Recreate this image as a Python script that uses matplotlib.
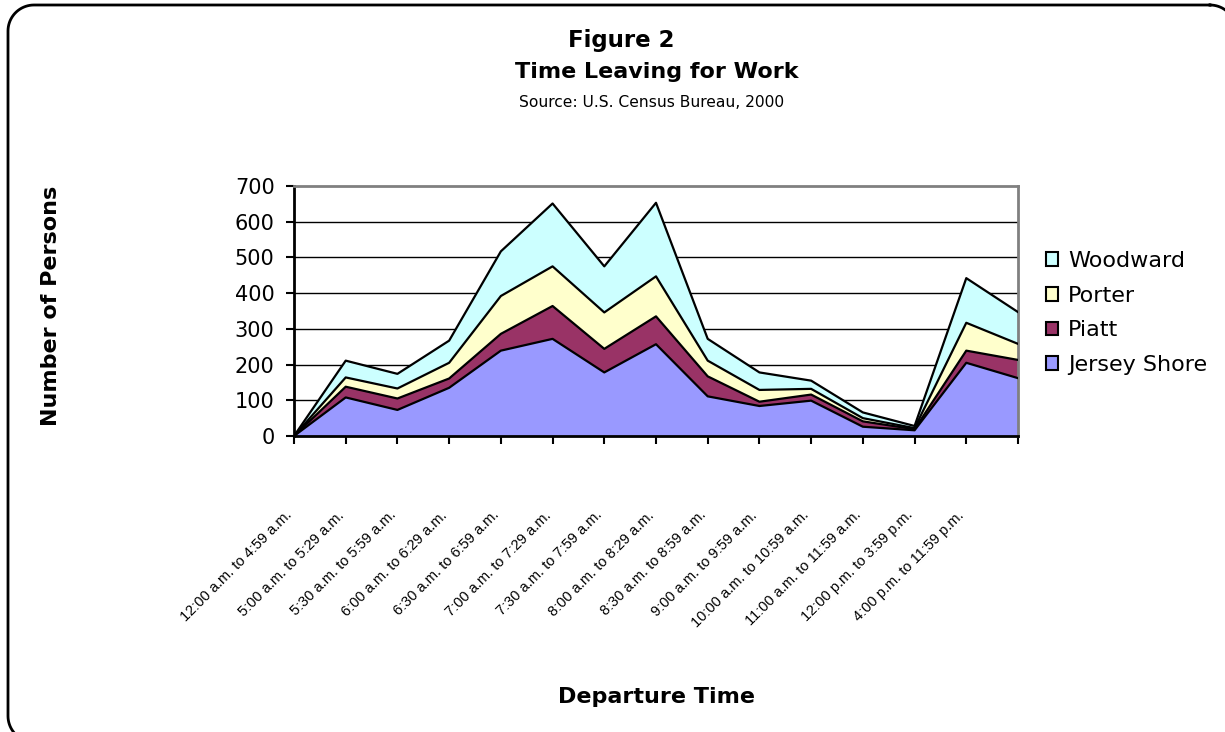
import numpy as np
import matplotlib
matplotlib.use('Agg')
import matplotlib.pyplot as plt

plt.rcParams['font.family'] = ['DejaVu Sans']

# departure time categories (last point has no label on the axis)
times = ['12:00 a.m. to 4:59 a.m.', '5:00 a.m. to 5:29 a.m.', '5:30 a.m. to 5:59 a.m.',
         '6:00 a.m. to 6:29 a.m.', '6:30 a.m. to 6:59 a.m.', '7:00 a.m. to 7:29 a.m.',
         '7:30 a.m. to 7:59 a.m.', '8:00 a.m. to 8:29 a.m.', '8:30 a.m. to 8:59 a.m.',
         '9:00 a.m. to 9:59 a.m.', '10:00 a.m. to 10:59 a.m.', '11:00 a.m. to 11:59 a.m.',
         '12:00 p.m. to 3:59 p.m.', '4:00 p.m. to 11:59 p.m.', '']

jersey_shore = [0, 108, 73, 135, 239, 272, 178, 257, 111, 84, 99, 26, 16, 205, 162]
piatt        = [0, 30, 32, 26, 47, 92, 66, 78, 56, 12, 17, 15, 3, 34, 51]
porter       = [0, 26, 28, 44, 106, 111, 102, 112, 44, 33, 16, 9, 3, 78, 45]
woodward     = [0, 47, 41, 62, 125, 176, 129, 206, 61, 49, 23, 16, 6, 125, 89]

names = ['Jersey Shore', 'Piatt', 'Porter', 'Woodward']
colors = ['#9999FF', '#993366', '#FFFFCC', '#CCFFFF']

W, H = 1225, 732
fig = plt.figure(figsize=(W/100., H/100.), dpi=100)

# background axes in pixel units (y down) for the rounded frame
bg = fig.add_axes([0, 0, 1, 1], zorder=-5)
bg.set_xlim(0, W)
bg.set_ylim(H, 0)
bg.axis('off')

def rounded_rect(x0, y0, x1, y1, r):
    t = np.linspace(0, np.pi/2, 20)
    pts = []
    for cx, cy, a0 in [(x1-r, y0+r, -np.pi/2), (x1-r, y1-r, 0.),
                       (x0+r, y1-r, np.pi/2), (x0+r, y0+r, np.pi)]:
        pts.append(np.column_stack([cx + r*np.cos(a0+t), cy + r*np.sin(a0+t)]))
    pts = np.vstack(pts + [pts[0][:1]])
    return pts[:, 0], pts[:, 1]

fx, fy = rounded_rect(8, 5, 1236, 742, 26)
bg.plot(fx, fy, c='k', lw=2, clip_on=False)

ax = fig.add_axes([294/W, 1-436/H, (1018-294)/W, (436-186)/H])
ax.set_facecolor('none')

x = np.arange(len(times))
series = [jersey_shore, piatt, porter, woodward]
stacked = np.cumsum(np.array(series), axis=0)
bottom = np.zeros(len(times))
handles = []
for i in range(len(series)):
    h = ax.fill_between(x, bottom, stacked[i], facecolor=colors[i], edgecolor='none', zorder=2)
    ax.plot(x, stacked[i], c='k', lw=1.6, zorder=3)
    handles.append(h)
    bottom = stacked[i]

ax.set_ylim(0, 700)
ax.set_xlim(0, len(times)-1)
ax.set_yticks(range(0, 701, 100))
for yv in range(100, 700, 100):
    ax.axhline(yv, c='k', lw=1, zorder=1)

ax.spines['left'].set_linewidth(2)
ax.spines['bottom'].set_linewidth(2)
ax.spines['bottom'].set_zorder(4)
ax.spines['top'].set_color('#808080')
ax.spines['right'].set_color('#808080')
ax.spines['top'].set_linewidth(2)
ax.spines['right'].set_linewidth(2)

ax.set_xticks(x)
ax.set_xticklabels([])
ax.tick_params(axis='x', length=6, width=1.5)
ax.tick_params(axis='y', length=6, width=1.5, labelsize=15, pad=8)

# slanted category labels hanging below each tick
for i, lab in enumerate(times):
    ax.annotate(lab, xy=(i, 0), xycoords=('data', 'axes fraction'),
                xytext=(-9, -72), textcoords='offset pixels',
                rotation=45, rotation_mode='anchor', ha='right', va='top',
                family=['Liberation Sans', 'DejaVu Sans'], fontsize=10.5)

leg = fig.legend(handles[::-1], names[::-1], loc='upper left', bbox_to_anchor=(1046/W, 1-251/H),
                 frameon=False, fontsize=16, handlelength=0.55, handleheight=0.55,
                 handletextpad=0.45, labelspacing=0.66, borderaxespad=0, borderpad=0)
for p in leg.get_patches():
    p.set_edgecolor('k')
    p.set_linewidth(1.5)

fig.text(621/W, 1-47/H, 'Figure 2', ha='center', va='baseline', fontsize=16.5, fontweight='bold')
fig.text(657/W, 1-78/H, 'Time Leaving for Work', ha='center', va='baseline', fontsize=16, fontweight='bold')
fig.text(652/W, 1-107/H, 'Source: U.S. Census Bureau, 2000', ha='center', va='baseline', fontsize=11.2)
fig.text(51/W, 1-306/H, 'Number of Persons', rotation=90, ha='center', va='center',
         fontsize=16, fontweight='bold')
fig.text(657/W, 1-697/H, 'Departure Time', ha='center', va='center', fontsize=16, fontweight='bold')

fig.savefig('out.png', dpi=100)
